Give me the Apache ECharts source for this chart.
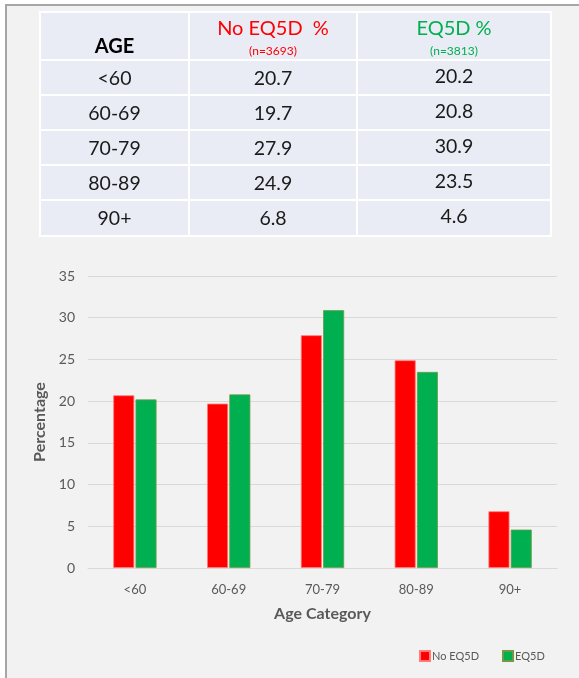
<!DOCTYPE html>
<html>
<head>
<meta charset="utf-8">
<script src="https://cdn.jsdelivr.net/npm/echarts@6/dist/echarts.min.js"></script>
<style>
  html, body { margin: 0; padding: 0; background: #ffffff; }
  #chart { width: 579px; height: 678px; }
</style>
</head>
<body>
<div id="chart"></div>
<script>
// Age groups and the share (%) of patients in each group
const categories = ['<60', '60-69', '70-79', '80-89', '90+'];
const noEq5d = [20.7, 19.7, 27.9, 24.9, 6.8];
const eq5d = [20.2, 20.8, 30.9, 23.5, 4.6];
const seriesNames = ['No EQ5D', 'EQ5D'];
const headerTitles = ['AGE', 'No EQ5D  %', 'EQ5D %'];
const headerCounts = ['', '(n=3693)', '(n=3813)'];
const yTicks = { min: 0, max: 35, interval: 5 };

const FONT = 'Lato, "Noto Sans", sans-serif';
const RED = '#ff0000';
const GREEN = '#00b050';

// Summary table layout
const colEdges = [40, 189, 357, 551];
const rowEdges = [12, 60, 95, 130, 165, 200, 236];

function buildTable() {
  const els = [];
  const x0 = colEdges[0], x1 = colEdges[colEdges.length - 1];
  const y0 = rowEdges[0], y1 = rowEdges[rowEdges.length - 1];
  els.push({ type: 'rect', shape: { x: x0, y: y0, width: x1 - x0, height: y1 - y0 },
    style: { fill: '#e9ebf5', stroke: '#ffffff', lineWidth: 2 }, z: 1 });
  for (let i = 1; i < colEdges.length - 1; i++) {
    els.push({ type: 'line', shape: { x1: colEdges[i], y1: y0, x2: colEdges[i], y2: y1 },
      style: { stroke: '#ffffff', lineWidth: 2 }, z: 2 });
  }
  for (let j = 1; j < rowEdges.length - 1; j++) {
    els.push({ type: 'line', shape: { x1: x0, y1: rowEdges[j], x2: x1, y2: rowEdges[j] },
      style: { stroke: '#ffffff', lineWidth: 2 }, z: 2 });
  }
  const cx = i => (colEdges[i] + colEdges[i + 1]) / 2;
  // header
  els.push({ type: 'text', x: cx(0), y: 47, z: 3,
    style: { text: headerTitles[0], font: 'bold 20px ' + FONT, fill: '#000000', align: 'center', verticalAlign: 'middle' } });
  const headColors = [null, RED, GREEN];
  for (let i = 1; i < 3; i++) {
    els.push({ type: 'text', x: cx(i), y: 29, z: 3,
      style: { text: headerTitles[i], font: '20px ' + FONT, fill: headColors[i], align: 'center', verticalAlign: 'middle' } });
    els.push({ type: 'text', x: cx(i), y: 51, z: 3,
      style: { text: headerCounts[i], font: '12px ' + FONT, fill: headColors[i], align: 'center', verticalAlign: 'middle' } });
  }
  // body rows
  categories.forEach((c, r) => {
    const yc = (rowEdges[r + 1] + rowEdges[r + 2]) / 2 + 1;
    const cells = [c, noEq5d[r].toFixed(1), eq5d[r].toFixed(1)];
    cells.forEach((t, i) => {
      els.push({ type: 'text', x: cx(i), y: yc - (i === 2 ? 2 : 0), z: 3,
        style: { text: t, font: '19.5px ' + FONT, fill: '#1a1a1a', align: 'center', verticalAlign: 'middle' } });
    });
  });
  return els;
}

const chart = echarts.init(document.getElementById('chart'), null, { renderer: 'canvas' });

chart.setOption({
  backgroundColor: '#ffffff',
  animation: false,
  textStyle: { fontFamily: FONT },
  graphic: [
    { type: 'rect', shape: { x: 6, y: 5, width: 620, height: 720 },
      style: { fill: '#f2f2f2', stroke: '#a6a6a6', lineWidth: 2 }, z: -10, silent: true },
    ...buildTable()
  ],
  legend: {
    data: seriesNames,
    left: 414,
    top: 645,
    itemWidth: 10,
    itemHeight: 10,
    itemGap: 23,
    icon: 'rect',
    textStyle: { color: '#595959', fontSize: 11, fontFamily: FONT, padding: [0, 0, 0, -3] }
  },
  grid: { left: 88, right: 22, top: 276, bottom: 110 },
  xAxis: {
    type: 'category',
    data: categories,
    name: 'Age Category',
    nameLocation: 'middle',
    nameGap: 38,
    nameTextStyle: { color: '#595959', fontSize: 16, fontWeight: 'bold', fontFamily: FONT },
    axisLine: { lineStyle: { color: '#d9d9d9', width: 1 } },
    axisTick: { show: false },
    axisLabel: { color: '#595959', fontSize: 13, margin: 15, fontFamily: FONT }
  },
  yAxis: {
    type: 'value',
    min: yTicks.min,
    max: yTicks.max,
    interval: yTicks.interval,
    name: 'Percentage',
    nameLocation: 'middle',
    nameGap: 34,
    nameRotate: 90,
    nameTextStyle: { color: '#595959', fontSize: 16, fontWeight: 'bold', fontFamily: FONT },
    axisLine: { show: false },
    axisTick: { show: false },
    axisLabel: { color: '#595959', fontSize: 14, margin: 13, fontFamily: FONT },
    splitLine: { lineStyle: { color: '#d9d9d9', width: 1 } }
  },
  series: [
    {
      name: seriesNames[0], type: 'bar', data: noEq5d,
      barWidth: 21, barGap: '6%',
      itemStyle: { color: RED, borderColor: '#ff7a7a', borderWidth: 0.8 }
    },
    {
      name: seriesNames[1], type: 'bar', data: eq5d,
      barWidth: 21,
      itemStyle: { color: GREEN, borderColor: '#6f9a45', borderWidth: 0.8 }
    }
  ]
});
</script>
</body>
</html>
